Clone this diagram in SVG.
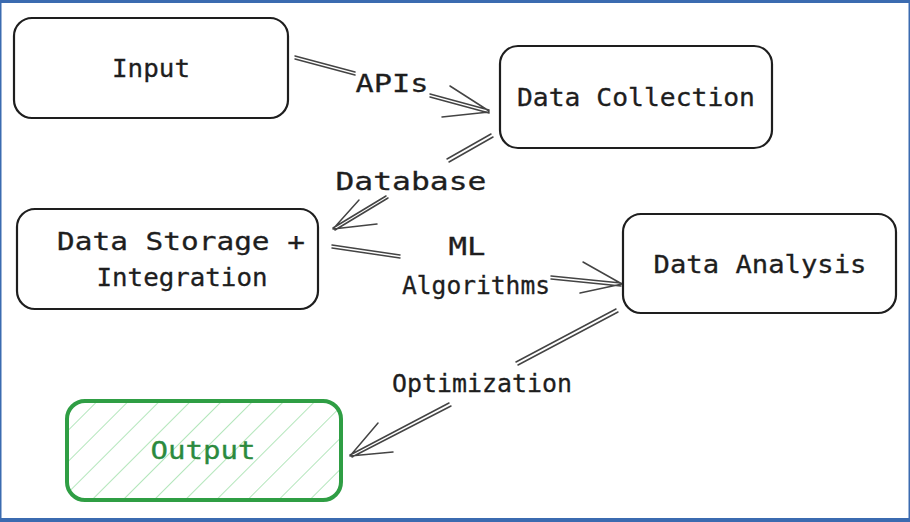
<svg xmlns="http://www.w3.org/2000/svg" width="910" height="522" viewBox="0 0 910 522">
<defs>
<style>
.box{fill:none;stroke:#1e1e1e;stroke-width:2.2}
.t{font-family:"DejaVu Sans Mono","Liberation Mono",monospace;font-size:25px;fill:#1e1e1e;text-anchor:middle;stroke:#1e1e1e;stroke-width:0.3}
.e{fill:none;stroke:#444;stroke-width:1.5;stroke-linecap:round}
</style>
<pattern id="hatch" patternUnits="userSpaceOnUse" width="22" height="22" patternTransform="rotate(45)">
<line x1="0" y1="0" x2="0" y2="22" stroke="#9fe0a9" stroke-width="1.6"/>
</pattern>
</defs>
<rect x="0" y="0" width="910" height="522" fill="#fff"/>
<g id="connectors">
<g id="e1">
<path class="e" d="M295,56 L355,72 M295,59 L355,75 M430,94 L489,110 M430,97 L489,113 M489,111 L450,86 M489,112 L442,117"/>
</g>
<g id="e2">
<path class="e" d="M491,134 L447,159 M493,137 L449,162 M386,196 L333,228 M388,198 L335,230 M333,229 L359,200 M333,229 L377,224"/>
</g>
<g id="e3">
<path class="e" d="M332,245 L400,255 M332,248 L400,258 M551,276 L621,283 M551,279 L621,286 M622,284 L583,262 M622,284 L580,293"/>
</g>
<g id="e4">
<path class="e" d="M616,309 L516,362 M618,312 L518,365 M449,403 L350,455 M451,406 L352,457 M350,456 L378,423 M350,456 L393,452"/>
</g>
</g>
<g id="n-input">
<rect class="box" x="14" y="18" width="274" height="100" rx="18"/>
<text class="t" x="151" y="77" textLength="78" lengthAdjust="spacingAndGlyphs">Input</text>
</g>
<g id="n-collection">
<rect class="box" x="500" y="46" width="272" height="102" rx="18"/>
<text class="t" x="636" y="106" textLength="238" lengthAdjust="spacingAndGlyphs">Data Collection</text>
</g>
<g id="n-storage">
<rect class="box" x="17" y="209" width="301" height="100" rx="18"/>
<text class="t" x="181" y="250" textLength="248" lengthAdjust="spacingAndGlyphs">Data Storage +</text>
<text class="t" x="182" y="286" textLength="171" lengthAdjust="spacingAndGlyphs">Integration</text>
</g>
<g id="n-analysis">
<rect class="box" x="623" y="214" width="273" height="99" rx="18"/>
<text class="t" x="760" y="273" textLength="213" lengthAdjust="spacingAndGlyphs">Data Analysis</text>
</g>
<g id="n-output">
<rect x="67" y="401" width="274" height="99" rx="18" fill="url(#hatch)"/>
<rect x="67" y="401" width="274" height="99" rx="18" fill="none" stroke="#2f9e44" stroke-width="4"/>
<text class="t" x="203" y="459" textLength="105" lengthAdjust="spacingAndGlyphs" style="fill:#2b8a3e;stroke:#2b8a3e">Output</text>
</g>
<g id="labels">
<text class="t" x="392" y="92" textLength="73" lengthAdjust="spacingAndGlyphs">APIs</text>
<text class="t" x="411" y="190" textLength="151" lengthAdjust="spacingAndGlyphs">Database</text>
<text class="t" x="467" y="255" textLength="37" lengthAdjust="spacingAndGlyphs">ML</text>
<text class="t" x="476" y="294" textLength="148" lengthAdjust="spacingAndGlyphs">Algorithms</text>
<text class="t" x="482" y="392" textLength="180" lengthAdjust="spacingAndGlyphs">Optimization</text>
</g>
<rect x="0.75" y="1.5" width="908.5" height="518" fill="none" stroke="#3b6bb0" stroke-width="1.5"/>
<rect x="0" y="0" width="910" height="3" fill="#3b6bb0"/>
<rect x="0" y="518" width="910" height="4" fill="#3b6bb0"/>
</svg>
